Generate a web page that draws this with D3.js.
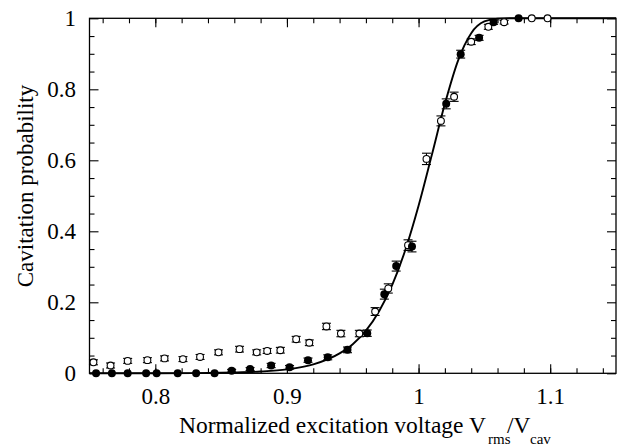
<!DOCTYPE html>
<html>
<head>
<meta charset="utf-8">
<script src="https://cdn.jsdelivr.net/npm/d3@7"></script>
</head>
<body style="margin:0">
<svg id="chart" width="622" height="447"></svg>
<script>
// ---- data ----
const filledV = [0.755, 0.767, 0.779, 0.793, 0.801, 0.817, 0.831, 0.845, 0.858, 0.872, 0.888, 0.902,
                 0.916, 0.931, 0.946, 0.961, 0.974, 0.983, 0.995, 1.021, 1.032, 1.046, 1.057, 1.076];
const filledP = [0, 0, 0, 0, 0, 0, 0, 0, 0.007, 0.012, 0.022, 0.017,
                 0.037, 0.045, 0.066, 0.113, 0.223, 0.302, 0.357, 0.759, 0.899, 0.945, 0.989, 1.0];
const filledErr = [0, 0, 0, 0, 0, 0, 0, 0, 0.004, 0.004, 0.006, 0.005,
                   0.006, 0.007, 0.008, 0.009, 0.014, 0.014, 0.015, 0.014, 0.011, 0.007, 0.006, 0];

const openV = [0.753, 0.766, 0.779, 0.794, 0.807, 0.821, 0.834, 0.848, 0.864, 0.877, 0.885, 0.895,
               0.907, 0.917, 0.930, 0.941, 0.955, 0.967, 0.977, 0.992, 1.006, 1.017, 1.027, 1.040,
               1.053, 1.065, 1.086, 1.098];
const openP = [0.031, 0.022, 0.035, 0.037, 0.042, 0.040, 0.046, 0.059, 0.068, 0.059, 0.063, 0.065,
               0.096, 0.086, 0.132, 0.112, 0.112, 0.174, 0.239, 0.361, 0.604, 0.711, 0.779, 0.934,
               0.976, 0.989, 1.0, 1.0];
const openErr = [0.007, 0.007, 0.007, 0.007, 0.007, 0.007, 0.007, 0.007, 0.008, 0.007, 0.007, 0.008,
                 0.008, 0.008, 0.009, 0.009, 0.009, 0.011, 0.013, 0.015, 0.016, 0.014, 0.013, 0.008,
                 0.007, 0.005, 0, 0];

// fitted curve
const curveV = [0.75, 0.80, 0.84, 0.86, 0.88, 0.90, 0.92, 0.94, 0.95, 0.96, 0.97, 0.98, 0.99,
                1.00, 1.01, 1.02, 1.03, 1.04, 1.05, 1.06, 1.07, 1.15];
const curveP = [0, 0.0002, 0.001, 0.0023, 0.005, 0.011, 0.025, 0.056, 0.082, 0.12, 0.175, 0.249, 0.348,
                0.472, 0.614, 0.759, 0.881, 0.958, 0.991, 0.999, 1.0, 1.0];

const xTicks = [0.8, 0.9, 1, 1.1];
const xMinorTicks = [0.76, 0.78, 0.80, 0.82, 0.84, 0.86, 0.88, 0.90, 0.92, 0.94, 0.96, 0.98, 1.00,
                     1.02, 1.04, 1.06, 1.08, 1.10, 1.12, 1.14];
const yTicks = [0, 0.2, 0.4, 0.6, 0.8, 1];
const yMinorTicks = [0.05, 0.1, 0.15, 0.25, 0.3, 0.35, 0.45, 0.5, 0.55, 0.65, 0.7, 0.75, 0.85, 0.9, 0.95];

const xTitle = "Normalized excitation voltage V";
const yTitle = "Cavitation probability";

// ---- layout ----
const FONT = "Liberation Serif";
const L = 89.5, R = 616, T = 18.3, B = 373.3;
const svg = d3.select("#chart");
const x = d3.scaleLinear().domain([0.75, 1.15]).range([L, R]);
const y = d3.scaleLinear().domain([0, 1]).range([B, T]);
const fmt = d => String(d);

function styleAxis(g) {
  g.attr("font-family", FONT).attr("font-size", 23);
  g.select(".domain").remove();
  g.selectAll(".tick line").attr("stroke", "#000").attr("stroke-width", 1.1);
  g.selectAll(".tick text")
    .attr("font-family", FONT).attr("font-size", 23).attr("fill", "#000");
}

// minor ticks (all four sides)
svg.append("g").attr("transform", `translate(0,${B})`)
  .call(d3.axisBottom(x).tickValues(xMinorTicks).tickSize(-5).tickFormat(""))
  .call(styleAxis);
svg.append("g").attr("transform", `translate(0,${T})`)
  .call(d3.axisTop(x).tickValues(xMinorTicks).tickSize(-5).tickFormat(""))
  .call(styleAxis);
svg.append("g").attr("transform", `translate(${L},0)`)
  .call(d3.axisLeft(y).tickValues(yMinorTicks).tickSize(-5).tickFormat(""))
  .call(styleAxis);
svg.append("g").attr("transform", `translate(${R},0)`)
  .call(d3.axisRight(y).tickValues(yMinorTicks).tickSize(-5).tickFormat(""))
  .call(styleAxis);

// major ticks
svg.append("g").attr("transform", `translate(0,${B})`)
  .call(d3.axisBottom(x).tickValues(xTicks).tickSize(-9).tickPadding(14).tickFormat(fmt))
  .call(styleAxis);
svg.append("g").attr("transform", `translate(0,${T})`)
  .call(d3.axisTop(x).tickValues(xTicks).tickSize(-9).tickFormat(""))
  .call(styleAxis);
svg.append("g").attr("transform", `translate(${L},0)`)
  .call(d3.axisLeft(y).tickValues(yTicks).tickSize(-9).tickPadding(13.5).tickFormat(fmt))
  .call(styleAxis);
svg.append("g").attr("transform", `translate(${R},0)`)
  .call(d3.axisRight(y).tickValues(yTicks).tickSize(-9).tickFormat(""))
  .call(styleAxis);

// frame
svg.append("rect").attr("x", L).attr("y", T).attr("width", R - L).attr("height", B - T)
  .attr("fill", "none").attr("stroke", "#000").attr("stroke-width", 1.3);

// fitted curve
const curveData = curveV.map((v, i) => [v, curveP[i]]);
svg.append("path").datum(curveData)
  .attr("fill", "none").attr("stroke", "#000").attr("stroke-width", 1.9)
  .attr("d", d3.line().x(d => x(d[0])).y(d => y(d[1])).curve(d3.curveMonotoneX));

// error bars
function errorBars(V, P, E) {
  const data = V.map((v, i) => ({ v, p: P[i], e: E[i] })).filter(d => d.e > 0);
  const g = svg.append("g").attr("stroke", "#000").attr("stroke-width", 1.1);
  g.selectAll(".ev").data(data).join("line")
    .attr("x1", d => x(d.v)).attr("x2", d => x(d.v))
    .attr("y1", d => y(d.p - d.e)).attr("y2", d => y(d.p + d.e));
  ["lo", "hi"].forEach(k => {
    g.selectAll(".c" + k).data(data).join("line")
      .attr("x1", d => x(d.v) - 4.5).attr("x2", d => x(d.v) + 4.5)
      .attr("y1", d => y(k === "lo" ? d.p - d.e : d.p + d.e))
      .attr("y2", d => y(k === "lo" ? d.p - d.e : d.p + d.e));
  });
}
errorBars(openV, openP, openErr);
errorBars(filledV, filledP, filledErr);

// open markers
svg.append("g").selectAll("circle").data(openV.map((v, i) => [v, openP[i]])).join("circle")
  .attr("cx", d => x(d[0])).attr("cy", d => y(d[1])).attr("r", 3.4)
  .attr("fill", "#fff").attr("stroke", "#000").attr("stroke-width", 1.1);

// filled markers
svg.append("g").selectAll("circle").data(filledV.map((v, i) => [v, filledP[i]])).join("circle")
  .attr("cx", d => x(d[0])).attr("cy", d => y(d[1])).attr("r", 4)
  .attr("fill", "#000");

// axis titles
const xt = svg.append("text").attr("font-family", FONT).attr("font-size", 23.5).attr("fill", "#000");
xt.append("tspan").attr("x", 179).attr("y", 433).text(xTitle);
xt.append("tspan").attr("x", 488).attr("y", 444).attr("font-size", 15).text("rms");
xt.append("tspan").attr("x", 507).attr("y", 433).text("/V");
xt.append("tspan").attr("x", 530).attr("y", 444).attr("font-size", 15).text("cav");

svg.append("text").attr("transform", "translate(33,186) rotate(-90)")
  .attr("text-anchor", "middle").attr("font-family", FONT).attr("font-size", 23)
  .attr("fill", "#000").text(yTitle);
</script>
</body>
</html>
